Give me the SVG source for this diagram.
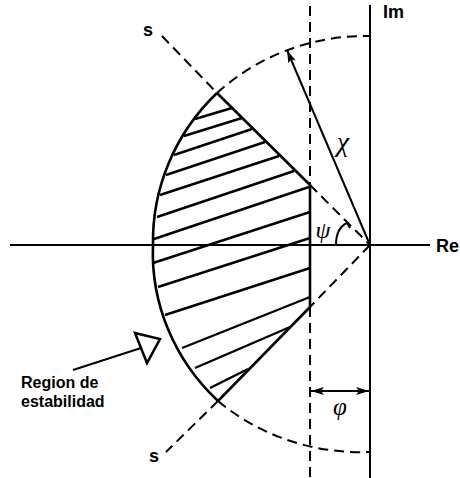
<svg xmlns="http://www.w3.org/2000/svg" width="460" height="478" viewBox="0 0 460 478">
<style>
.ax{stroke:#000;stroke-width:2;fill:none}
.sol{stroke:#000;stroke-width:2.6;fill:none;stroke-linejoin:round}
.dash{stroke:#000;stroke-width:2;fill:none;stroke-dasharray:10 6}
.hat{stroke:#000;stroke-width:2.4}
.lbl{font-family:"Liberation Sans",Arial,sans-serif;font-weight:bold;fill:#000}
.gr{font-family:"Liberation Serif","Times New Roman",serif;font-style:italic;fill:#000}
</style>
<defs>
<marker id="ah" markerUnits="userSpaceOnUse" markerWidth="14" markerHeight="10" refX="13" refY="4" orient="auto-start-reverse">
<path d="M0,0 L13,4 L0,8 L3,4 z" fill="#000"/>
</marker>
</defs>
<rect width="460" height="478" fill="#fff"/>
<g id="axes">
<line class="ax" x1="10" y1="245" x2="430" y2="245"/>
<line class="ax" x1="370" y1="5" x2="370" y2="478"/>
<text class="lbl" x="383" y="18" font-size="18">Im</text>
<text class="lbl" x="436" y="252" font-size="18">Re</text>
</g>
<g id="dashed-guides">
<line class="dash" x1="310" y1="6" x2="310" y2="185"/>
<line class="dash" x1="310" y1="307" x2="310" y2="478"/>
<path class="dash" d="M217,93 A217,209 0 0 1 370,36"/>
<path class="dash" d="M218,401 A217,207 0 0 0 370,452"/>
<line class="dash" x1="162" y1="36" x2="217" y2="93"/>
<line class="dash" x1="310" y1="185" x2="370" y2="245"/>
<line class="dash" x1="370" y1="245" x2="310" y2="307"/>
<line class="dash" x1="218" y1="401" x2="166" y2="452"/>
<text class="lbl" x="148" y="36" font-size="18" text-anchor="middle">s</text>
<text class="lbl" x="154" y="462" font-size="18" text-anchor="middle">s</text>
</g>
<g id="stability-region">
<path class="sol" d="M217,93 L310,185 L310,307 L218,401"/>
<path class="sol" d="M217,93 A217,209 0 0 0 153,245 A217,207 0 0 0 218,401"/>
<g id="hatching">
<line class="hat" x1="195" y1="119" x2="232" y2="108"/>
<line class="hat" x1="184" y1="136" x2="242" y2="118"/>
<line class="hat" x1="174" y1="155" x2="252" y2="129"/>
<line class="hat" x1="166" y1="175" x2="265" y2="142"/>
<line class="hat" x1="160" y1="195" x2="279" y2="156"/>
<line class="hat" x1="157" y1="217" x2="294" y2="171"/>
<line class="hat" x1="154" y1="239" x2="309" y2="187"/>
<line class="hat" x1="153" y1="263" x2="310" y2="212"/>
<line class="hat" x1="158" y1="287" x2="310" y2="238"/>
<line class="hat" x1="165" y1="315" x2="310" y2="268"/>
<line class="hat" x1="182" y1="348" x2="310" y2="297"/>
<line class="hat" x1="195" y1="368" x2="290" y2="327"/>
<line class="hat" x1="210" y1="388" x2="248" y2="369"/>
</g>
</g>
<g id="chi">
<line class="ax" x1="370" y1="245" x2="287" y2="50" marker-end="url(#ah)"/>
<text class="gr" x="343" y="151" font-size="28" text-anchor="middle">χ</text>
</g>
<g id="psi">
<path class="ax" d="M336,245 Q336,228 347,223 L350,228"/>
<text class="gr" x="323" y="238" font-size="24" text-anchor="middle">ψ</text>
</g>
<g id="phi">
<line class="ax" x1="311" y1="391" x2="369" y2="391" marker-start="url(#ah)" marker-end="url(#ah)"/>
<text class="gr" x="340" y="415" font-size="25" text-anchor="middle">φ</text>
</g>
<g id="region-label">
<line class="ax" x1="73" y1="370" x2="141" y2="348" stroke-width="2.5"/>
<polygon points="135,333 160,339 147,363" fill="#fff" stroke="#000" stroke-width="2.5" stroke-linejoin="miter"/>
<text class="lbl" x="21" y="388" font-size="16">Region de</text>
<text class="lbl" x="21" y="407" font-size="16">estabilidad</text>
</g>
</svg>
